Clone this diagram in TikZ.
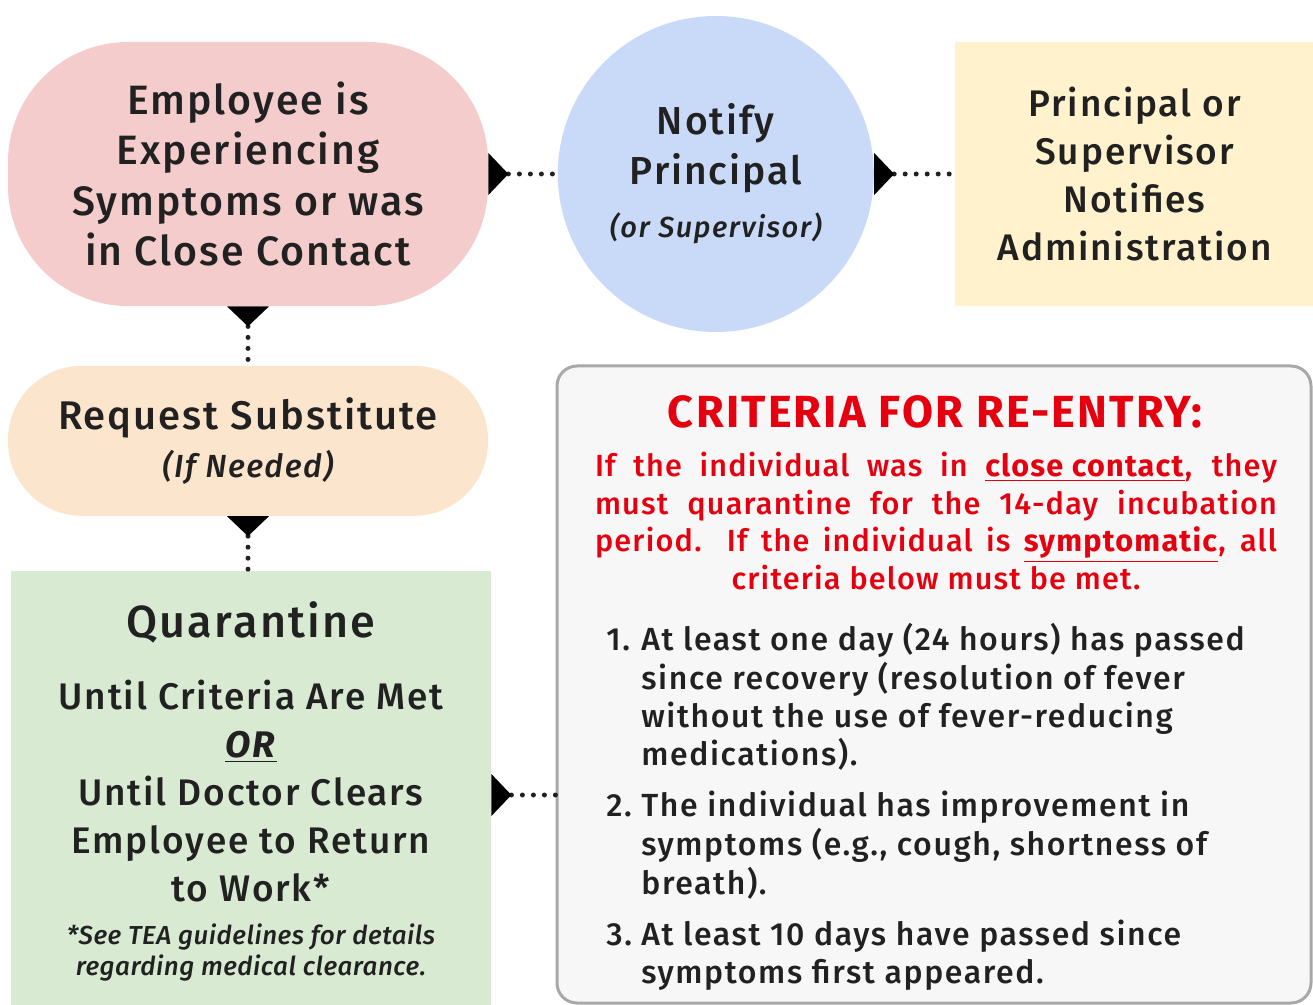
\documentclass[tikz,border=0pt]{standalone}
\usepackage{fontspec}
\setmainfont{Fira Sans}[LetterSpace=5, UprightFont=* Medium, ItalicFont=* Medium Italic, BoldFont=* Bold, BoldItalicFont=* Bold Italic]
\usetikzlibrary{arrows.meta,positioning}
\definecolor{pinkfill}{HTML}{F4CCCC}
\definecolor{bluefill}{HTML}{C9DAF8}
\definecolor{yellowfill}{HTML}{FFF2CC}
\definecolor{orangefill}{HTML}{FCE5CD}
\definecolor{greenfill}{HTML}{D9EAD3}
\definecolor{grayfill}{HTML}{F7F7F7}
\definecolor{grayline}{HTML}{A8A8A8}
\definecolor{alertred}{HTML}{E6000F}
\definecolor{ink}{HTML}{212121}

\begin{document}
\begin{tikzpicture}[x=0.5pt, y=-0.5pt,
    box/.style={inner sep=0pt, align=center, text=ink},
    link/.style={draw=ink, line width=2.5pt, dash pattern=on 0pt off 5.5pt, line cap=round,
        {Triangle[length=10pt, width=21pt, reversed, line width=0pt, color=black]}-},
    words/.style={inner sep=0pt, align=center, text=ink}]
    \useasboundingbox (0,0) rectangle (1313,1005);
    % boxes
    \node [box, fill=pinkfill, rounded corners=60pt, minimum width=240pt, minimum height=132pt,
        font=\fontsize{20.5pt}{25.3pt}\selectfont] (symptoms) at (248,174)
        {Employee is\\Experiencing\\Symptoms or was\\in Close Contact};
    \node [box, circle, fill=bluefill, minimum size=158pt, right=34.5pt of symptoms,
        font=\fontsize{19.5pt}{25pt}\selectfont] (notify)
        {Notify\\Principal\\[1.5pt]\fontsize{14.5pt}{18pt}\selectfont\itshape (or Supervisor)};
    \node [box, fill=yellowfill, minimum width=180pt, minimum height=132pt, right=40pt of notify,
        font=\fontsize{18.5pt}{24pt}\selectfont] (admin)
        {Principal or\\Supervisor\\Notifies\\Administration};
    \node [box, fill=orangefill, rounded corners=37pt, minimum width=240pt, minimum height=75pt,
        below=29.5pt of symptoms, font=\fontsize{20pt}{24pt}\selectfont] (request)
        {Request Substitute\\\fontsize{16pt}{21.5pt}\selectfont\itshape (If Needed)};
    \node [box, fill=greenfill, minimum width=240pt, minimum height=217pt] (quarantine) at (251,788) {};
    \node [box, fill=grayfill, draw=grayline, line width=1.5pt, rounded corners=10pt,
        minimum width=377pt, minimum height=318.5pt] (criteria) at (934,684.5) {};
    %
    \node [words, font=\fontsize{22.5pt}{28pt}\selectfont] (qtitle) at (251,622) {Quarantine};
    \node [words, font=\fontsize{18.5pt}{24pt}\selectfont] (qbody) at (251,791.5)
        {Until Criteria Are Met\\\underline{\textbf{\textit{OR}}}\\Until Doctor Clears\\Employee to Return\\to Work*};
    \node [words, font=\fontsize{13pt}{15.5pt}\selectfont\addfontfeatures{LetterSpace=2}\itshape] (qnote) at (251,952)
        {*See TEA guidelines for details\\regarding medical clearance.};
    %
    \node [words, text=alertred, font=\bfseries\fontsize{22.5pt}{25pt}\selectfont] (heading) at (935,412)
        {CRITERIA FOR RE-ENTRY:};
    \node [words, text=alertred, font=\fontsize{15.3pt}{18.75pt}\selectfont\addfontfeatures{LetterSpace=4}] (rules) at (936,521)
        {\makebox[341pt][s]{If the individual was in \underline{\textbf{close contact}}, they}\\
         \makebox[341pt][s]{must quarantine for the 14-day incubation}\\
         \makebox[341pt][s]{period. If the individual is \underline{\textbf{symptomatic}}, all}\\
         criteria below must be met.};
    \node [words, align=left, anchor=north west, font=\fontsize{16pt}{19pt}\selectfont] (steps) at (606,623)
        {\begin{tabular}{@{}p{17.5pt}@{}l@{}}
         1. & At least one day (24 hours) has passed\\
            & since recovery (resolution of fever\\
            & without the use of fever-reducing\\
            & medications).\\[6.5pt]
         2. & The individual has improvement in\\
            & symptoms (e.g., cough, shortness of\\
            & breath).\\[6.5pt]
         3. & At least 10 days have passed since\\
            & symptoms first appeared.
         \end{tabular}};
    % connectors
    \draw [link] (symptoms.east) -- (notify.west);
    \draw [link] (notify.east) -- (admin.west);
    \draw [link] (symptoms.south) -- (request.north);
    \draw [link] (request.south) -- (request.south |- quarantine.north);
    \draw [link] ([yshift=-3.5pt]quarantine.east) -- ([yshift=-3.5pt]quarantine.east -| criteria.west);
\end{tikzpicture}
\end{document}
